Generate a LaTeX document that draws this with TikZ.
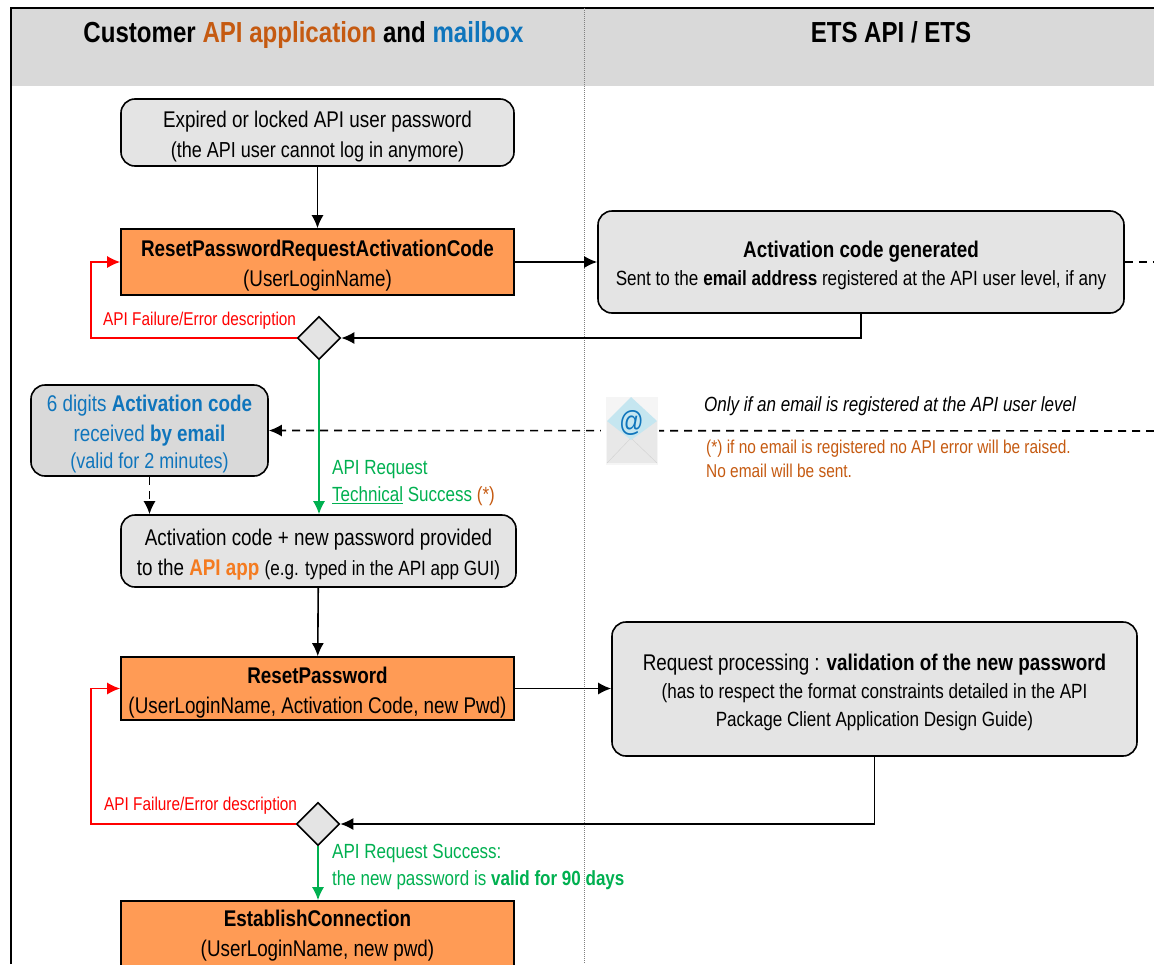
\documentclass[tikz,border=0pt]{standalone}
\usepackage{fontspec}
\setmainfont[FakeStretch=0.83]{Liberation Sans}
\usetikzlibrary{arrows.meta,shapes.geometric}
\definecolor{hdrgray}{HTML}{D9D9D9}
\definecolor{boxgray}{HTML}{E4E4E4}
\definecolor{boxorange}{HTML}{FF9B55}
\definecolor{apibrown}{HTML}{C55A11}
\definecolor{apiorange}{HTML}{F47B20}
\definecolor{mailblue}{HTML}{0F75BC}
\definecolor{okgreen}{HTML}{00B050}
\definecolor{flapblue}{HTML}{C5E6F0}
\newcommand{\subsize}{\fontsize{20.6}{30}\selectfont}
\newcommand{\midsize}{\fontsize{21.7}{30}\selectfont}
\newcommand{\toppad}{\rule{0pt}{24pt}}
\tikzset{
	txt/.style={font=\fontsize{22.7}{30}\selectfont, align=center, inner sep=0pt},
	smalltxt/.style={font=\fontsize{18.5}{26}\selectfont, align=left, inner sep=0pt},
	titletxt/.style={font=\fontsize{29}{34}\selectfont\bfseries, inner sep=0pt, anchor=base},
	graybox/.style={txt, draw=black, line width=1.6pt, fill=boxgray, rounded corners=14pt},
	apibox/.style={txt, draw=black, line width=1.6pt, fill=boxorange},
	decision/.style={diamond, draw=black, line width=1.6pt, fill=boxgray, inner sep=0pt, minimum width=43pt, minimum height=43pt},
	flow/.style={line width=1.6pt, -{Latex[length=13pt,width=12pt]}},
	flowdash/.style={flow, dash pattern=on 8pt off 6pt},
}
\begin{document}
\begin{tikzpicture}[x=1pt,y=-1pt]
	\useasboundingbox (0,0) rectangle (1154,964);
	\clip (0,0) rectangle (1154,964);

	\fill[hdrgray] (11,8) rectangle (1154,86); % header
	\draw[line width=1.6pt] (11,964) -- (11,8) -- (1154,8);
	\draw[gray, densely dotted, line width=1pt] (584,8) -- (584,964);

	\node[titletxt] (titlecust) at (303.5,42) {Customer {\color{apibrown}API application} and {\color{mailblue}mailbox}};
	\node[titletxt] (titleets) at (891,42) {ETS API / ETS};

	\node[graybox, minimum width=393pt, minimum height=67pt] (expired) at (317.5,132.5) {\toppad Expired or locked API user password\\{\midsize (the API user cannot log in anymore)}};
	\node[apibox, minimum width=393pt, minimum height=66pt] (resetreq) at (317.5,262) {\toppad\textbf{ResetPasswordRequestActivationCode}\\(UserLoginName)};
	\node[graybox, minimum width=526pt, minimum height=102pt] (generated) at (861,262) {\toppad\textbf{Activation code generated}\\[-2pt]{\subsize Sent to the \textbf{email address} registered at the API user level, if any}};
	\node[decision] (dreq) at (319,338) {};
	\node[graybox, minimum width=237pt, minimum height=91pt, fill=hdrgray] (emailcode) at (149.5,430.5) {\toppad{\color{mailblue}6 digits \textbf{Activation code}}\\{\color{mailblue}received \textbf{by email}}\\[-3pt]{\color{mailblue}\midsize (valid for 2 minutes)}};
	\node[graybox, minimum width=395pt, minimum height=72pt] (provided) at (318.5,551) {\toppad Activation code + new password provided\\to the {\color{apiorange}\textbf{API app}} {\subsize (e.g. typed in the API app GUI)}};
	\node[apibox, minimum width=393pt, minimum height=63pt] (resetpwd) at (317.5,688.5) {\toppad\textbf{ResetPassword}\\(UserLoginName, Activation Code, new Pwd)};
	\node[graybox, minimum width=525pt, minimum height=134pt] (validation) at (874.5,689) {\toppad Request processing : \textbf{validation of the new password}\\[-2pt]{\subsize (has to respect the format constraints detailed in the API}\\[-2pt]{\subsize Package Client Application Design Guide)}};
	\node[decision] (dpwd) at (318,824) {};
	\node[apibox, minimum width=393pt, minimum height=70pt] (establish) at (317.5,936) {\textbf{EstablishConnection}\\(UserLoginName, new pwd)};

	\coordinate (edgegen) at (1154,262);
	\coordinate (edgemail) at (1154,431);

	% connectors
	\draw[flow] (expired) -- (resetreq);
	\draw[flow] (resetreq) -- (generated);
	\draw[flowdash, -] (generated) -- (edgegen);
	\draw[flow] (generated.south) |- (dreq.east);
	\draw[flow, red] (dreq.west) -- (91,338) |- (resetreq.west);
	\draw[flow, okgreen] (dreq.south) -- (dreq.south |- provided.north);
	\draw[flowdash] (edgemail) -- (emailcode.east);
	\draw[flowdash] (emailcode.south) -- (emailcode.south |- provided.north);
	\draw[flow] (provided) -- (resetpwd);
	\draw[flow] (resetpwd) -- (validation.west |- resetpwd);
	\draw[flow] (validation.south) |- (dpwd.east);
	\draw[flow, red] (dpwd.west) -- (91,824) |- (resetpwd.west);
	\draw[flow, okgreen] (dpwd.south) -- (establish.north -| dpwd.south);

	% envelope
	\fill[white] (601,397) rectangle (659,465);
	\fill[black!4] (606,397) rectangle (658,465);
	\fill[black!9] (607,421) rectangle (657,463);
	\draw[black!18] (607,463) -- (631,438) -- (657,463);
	\fill[flapblue] (607,421) -- (631,397) -- (657,421) -- (631,440) -- cycle;
	\node[inner sep=0pt, font=\fontsize{29}{30}\selectfont\itshape, text=mailblue] (envat) at (631,423) {@};

	% labels
	\node[smalltxt, red, anchor=west] (failone) at (103,321) {API Failure/Error description};
	\node[smalltxt, red, anchor=west] (failtwo) at (104,806) {API Failure/Error description};
	\node[smalltxt, okgreen, font=\fontsize{20.5}{27}\selectfont, anchor=north west] (techok) at (332,460) {API Request\\\underline{Technical} Success {\color{apibrown}(*)}};
	\node[smalltxt, okgreen, font=\fontsize{20.5}{27}\selectfont, anchor=north west] (pwdok) at (332,844) {API Request Success:\\the new password is \textbf{valid for 90 days}};
	\node[smalltxt, font=\fontsize{20.5}{27}\selectfont\itshape, anchor=west] (onlyif) at (704,406) {Only if an email is registered at the API user level};
	\node[smalltxt, apibrown, font=\fontsize{18.6}{24}\selectfont, anchor=north west] (noemail) at (706,440) {(*) if no email is registered no API error will be raised.\\No email will be sent.};
\end{tikzpicture}
\end{document}
